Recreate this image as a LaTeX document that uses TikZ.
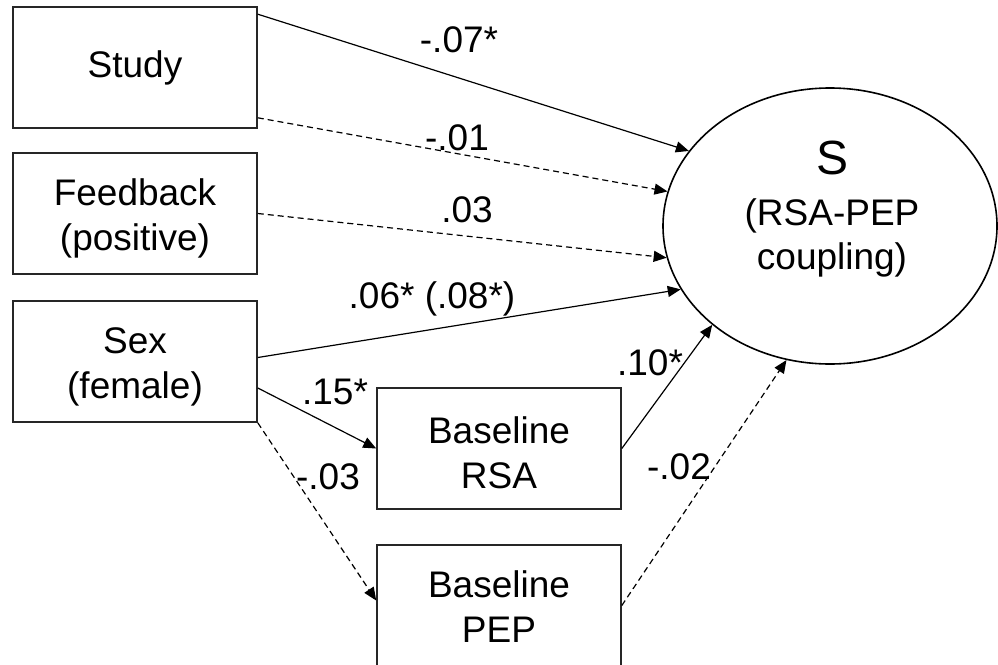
\documentclass[tikz,border=0pt]{standalone}
\usepackage{fontspec}
\setmainfont{Liberation Sans}
\usetikzlibrary{arrows.meta,shapes.geometric}
\begin{document}
\begin{tikzpicture}[x=1pt,y=-1pt,
  txt/.style={align=center, inner sep=0pt, font=\fontsize{37}{45}\selectfont},
  box/.style={draw=black!85, line width=1.6pt, minimum width=244pt, minimum height=121pt, inner sep=0pt},
  lat/.style={draw, line width=1.6pt, ellipse, minimum width=334pt, minimum height=276pt, inner sep=0pt},
  lbl/.style={font=\fontsize{37}{42}\selectfont, inner sep=0pt},
  path/.style={line width=1.2pt, -{Triangle[length=13pt,width=11pt]}},
  nspath/.style={path, dash pattern=on 6pt off 4pt}
]
\useasboundingbox (0,0) rectangle (998,664);
\node[box, label={[txt]center:Study}] (study) at (135,67.5) {};
\node[box, label={[txt,yshift=-5pt]center:Feedback\\(positive)}] (feed) at (135,213.5) {};
\node[box, label={[txt,yshift=-5pt]center:Sex\\(female)}] (sex) at (135,361.5) {};
\node[box, label={[txt,yshift=-4pt]center:Baseline\\RSA}] (rsa) at (499,448.5) {};
\node[box, label={[txt,yshift=-1pt]center:Baseline\\PEP}] (pep) at (499,605.5) {};
\node[lat] (S) at (830,226) {};
\node[font=\fontsize{48}{56}\selectfont, inner sep=0pt] (Sname) at (832,158) {S};
\node[txt, font=\fontsize{37}{44}\selectfont] (Sdesc) at (832,238) {(RSA-PEP\\coupling)};

\draw[path] ([yshift=-8pt]study.north east) -- (S.152.5);
\draw[nspath] ([yshift=11pt]study.south east) -- (S.168.8);
\draw[nspath] (feed.east) -- (S.191);
\draw[path] ([yshift=4pt]sex.east) -- (S.203);
\draw[path] ([yshift=-26.5pt]sex.east) -- (rsa.west);
\draw[nspath] (sex.south east) -- ([yshift=5pt]pep.west);
\draw[path] (rsa.east) -- (S.220.6);
\draw[nspath] (pep.east) -- (S.252.8);

\node[lbl] (l1) at (459,40) {-.07*};
\node[lbl] (l2) at (457,138) {-.01};
\node[lbl] (l3) at (467,210) {.03};
\node[lbl] (l4) at (432,299) {.06* (.08*)};
\node[lbl] (l5) at (335,392) {.15*};
\node[lbl] (l6) at (328,477) {-.03};
\node[lbl] (l7) at (650,363) {.10*};
\node[lbl] (l8) at (679,467) {-.02};
\end{tikzpicture}
\end{document}
